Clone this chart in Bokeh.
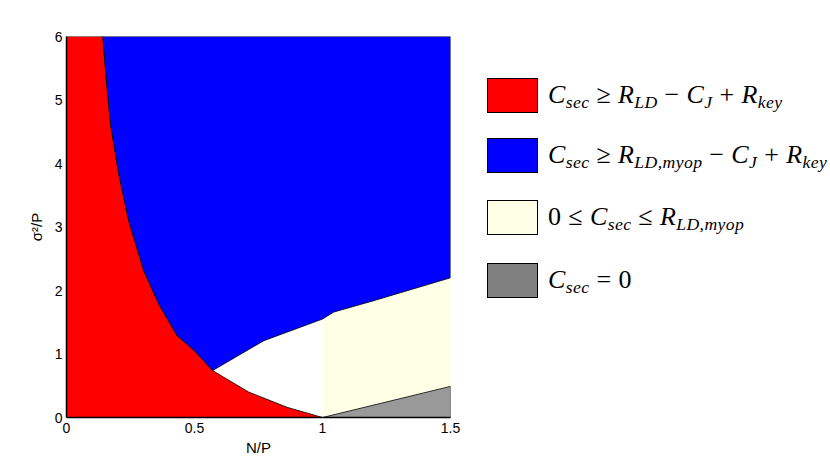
from bokeh.plotting import figure
from bokeh.models import Div, Range1d, FixedTicker
from bokeh.layouts import row
from bokeh.embed import file_html
from bokeh.resources import INLINE

# ---- data ----
# boundary between red and blue regions (top -> corner)
red_blue_x = [0.142, 0.156, 0.172, 0.204, 0.243, 0.302, 0.360, 0.432, 0.498, 0.571]
red_blue_y = [6.00, 5.31, 4.62, 3.84, 3.10, 2.31, 1.79, 1.29, 1.06, 0.74]
# lower boundary of red region (corner -> (1,0))
red_low_x = [0.571, 0.614, 0.712, 0.862, 1.000]
red_low_y = [0.74, 0.635, 0.40, 0.16, 0.00]
# lower boundary of blue region (corner -> right edge)
blue_low_x = [0.571, 0.771, 1.000, 1.044, 1.200, 1.500]
blue_low_y = [0.74, 1.21, 1.55, 1.66, 1.84, 2.20]
# grey region upper edge
grey_x = [1.0, 1.5, 1.5]
grey_y = [0.0, 0.49, 0.0]

x_ticks = [0, 0.5, 1, 1.5]
x_tick_labels = ["0", "0.5", "1", "1.5"]
y_ticks = [0, 1, 2, 3, 4, 5, 6]
x_max, y_max = 1.5, 6.0

red_c, blue_c, cream_c, grey_c = "#ff0000", "#0000ff", "#ffffe6", "#999999"

# ---- build polygons from the boundaries ----
red_px = [0, 0] + red_blue_x + red_low_x[1:]
red_py = [0, y_max] + red_blue_y + red_low_y[1:]
blue_px = red_blue_x + blue_low_x[1:] + [x_max]
blue_py = red_blue_y + blue_low_y[1:] + [y_max]
cream_idx = [i for i, v in enumerate(blue_low_x) if v >= 1.0]
cream_px = [grey_x[0], grey_x[1]] + [blue_low_x[i] for i in reversed(cream_idx)]
cream_py = [grey_y[0], grey_y[1]] + [blue_low_y[i] for i in reversed(cream_idx)]

p = figure(width=478, height=462, output_backend="svg", toolbar_location=None,
           x_range=Range1d(0, x_max), y_range=Range1d(0, y_max),
           min_border_left=66, min_border_right=28, min_border_top=36, min_border_bottom=45)
p.outline_line_color = None
p.xgrid.visible = False
p.ygrid.visible = False

p.patch(cream_px, cream_py, fill_color=cream_c, line_color=None)
p.patch(red_px, red_py, fill_color=red_c, line_color="black", line_width=0.8)
p.patch(blue_px, blue_py, fill_color=blue_c, line_color="black", line_width=0.8)
p.patch(grey_x, grey_y, fill_color=grey_c, line_color="black", line_width=0.8)

p.xaxis.ticker = FixedTicker(ticks=x_ticks)
p.xaxis.major_label_overrides = {t: l for t, l in zip(x_ticks, x_tick_labels)}
p.yaxis.ticker = FixedTicker(ticks=y_ticks)
p.xaxis.axis_label = "N/P"
p.yaxis.axis_label = "σ²/P"
for ax in (p.xaxis, p.yaxis):
    ax.major_tick_in = 0
    ax.major_tick_out = 0
    ax.minor_tick_in = 0
    ax.minor_tick_out = 0
    ax.axis_line_color = "black"
    ax.axis_line_width = 1.5
    ax.major_label_text_font = "Liberation Sans"
    ax.major_label_text_font_size = "14px"
    ax.major_label_text_color = "black"
    ax.axis_label_text_font = "Liberation Sans"
    ax.axis_label_text_font_size = "15px"
    ax.axis_label_text_font_style = "normal"
    ax.axis_label_text_color = "black"
p.xaxis.major_label_standoff = 5
p.xaxis.axis_label_standoff = 3
p.yaxis.major_label_standoff = 4
p.yaxis.axis_label_standoff = 7

# ---- legend ----
legend_colors = [red_c, blue_c, cream_c, "#808080"]
up = '<span style="font-style:normal">'
legend_html = [
    'C<sub>sec</sub> ' + up + '&ge;</span> R<sub>LD</sub> ' + up + '&minus;</span> C<sub>J</sub> ' + up + '+</span> R<sub>key</sub>',
    'C<sub>sec</sub> ' + up + '&ge;</span> R<sub>LD,myop</sub> ' + up + '&minus;</span> C<sub>J</sub> ' + up + '+</span> R<sub>key</sub>',
    up + '0 &le;</span> C<sub>sec</sub> ' + up + '&le;</span> R<sub>LD,myop</sub>',
    'C<sub>sec</sub> ' + up + '= 0</span>',
]
row_tops = [78, 138, 200, 263]
parts = ['<div style="position:relative;width:344px;height:462px;font-family:\'Liberation Serif\',serif;'
         'font-size:26px;font-style:italic;color:black;letter-spacing:0.4px;">']
for c, h, t in zip(legend_colors, legend_html, row_tops):
    parts.append(f'<div style="position:absolute;left:9px;top:{t}px;width:51px;height:35px;'
                 f'background:{c};border:1.5px solid #000;"></div>')
    parts.append(f'<div style="position:absolute;left:70px;top:{t + 2}px;white-space:nowrap;'
                 f'line-height:30px;">{h}</div>')
parts.append('</div>')
div = Div(text="".join(parts), width=344, height=462, margin=0,
          stylesheets=[":host sub{font-size:68%;vertical-align:-0.3em;line-height:0;}"])

layout = row(p, div, spacing=0)
open("out.html", "w").write(file_html(layout, INLINE))
